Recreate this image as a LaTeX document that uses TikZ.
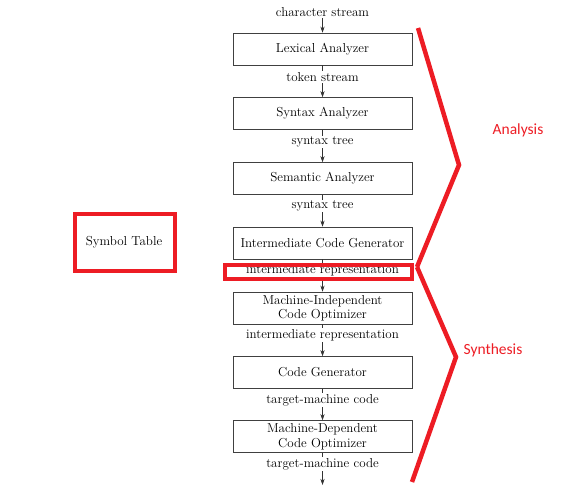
\documentclass[tikz,border=0pt]{standalone}
\usepackage{fontspec}
\newfontfamily\notefont{Carlito}
\usetikzlibrary{arrows.meta}
\definecolor{markred}{RGB}{237,28,36}
\tikzset{
    phase/.style={draw=black!75, line width=0.5pt, minimum width=179pt, minimum height=32pt, inner sep=0pt, align=center, font=\fontsize{13}{14.5}\selectfont},
    flow/.style={fill=white, inner sep=1pt, font=\fontsize{13}{14.5}\selectfont},
    feed/.style={draw=black!80, line width=0.5pt, -{Stealth[length=6pt,width=4pt]}},
    redmark/.style={draw=markred, line width=4.5pt},
    note/.style={text=markred, font=\notefont\fontsize{15.5}{17}\selectfont}
}
\begin{document}
\begin{tikzpicture}[x=1pt, y=-1pt]

            \useasboundingbox (0,0) rectangle (565,503);

            \node [phase] (lex) at (322.5,49) {Lexical Analyzer};
            \node [phase] (syn) at (322.5,113.5) {Syntax Analyzer};
            \node [phase] (sem) at (322.5,178.5) {Semantic Analyzer};
            \node [phase] (icg) at (322.5,243) {Intermediate Code Generator};
            \node [phase] (mio) at (322.5,308) {Machine-Independent\\Code Optimizer};
            \node [phase] (cg) at (322.5,372.5) {Code Generator};
            \node [phase] (mdo) at (322.5,436.5) {Machine-Dependent\\Code Optimizer};

            \node [flow] (src) at (322.5,12) {character stream};
            \coordinate (out) at (322.5,485);

            \draw [feed] (src) -- (lex);
            \draw [feed] (lex) -- (syn);
            \draw [feed] (syn) -- (sem);
            \draw [feed] (sem) -- (icg);
            \draw [feed] (icg) -- (mio);
            \draw [feed] (mio) -- (cg);
            \draw [feed] (cg) -- (mdo);
            \draw [feed] (mdo) -- (out);

            \node [flow] (tok) at (322.5,77) {token stream};
            \node [flow] (tree1) at (322.5,142) {syntax tree};
            \node [flow] (tree2) at (322.5,206) {syntax tree};
            \node [flow] (ir1) at (322.5,270.5) {intermediate representation};
            \node [flow] (ir2) at (322.5,335) {intermediate representation};
            \node [flow] (tmc1) at (322.5,400) {target-machine code};
            \node [flow] (tmc2) at (322.5,464) {target-machine code};

            \node [phase, draw=none] (sym) at (124,242.5) {Symbol Table};

            % red marks
            \draw [redmark] (75,214) rectangle (175,271);
            \draw [redmark] (225,265) rectangle (412,279);

            \draw [redmark, line join=miter] (418,28) -- (459,165) -- (417,267);
            \draw [redmark, line join=miter] (417,267) -- (456,357) -- (412,482);

            \node [note] (ana) at (518,130) {Analysis};
            \node [note] (synth) at (493,350) {Synthesis};

\end{tikzpicture}
\end{document}
